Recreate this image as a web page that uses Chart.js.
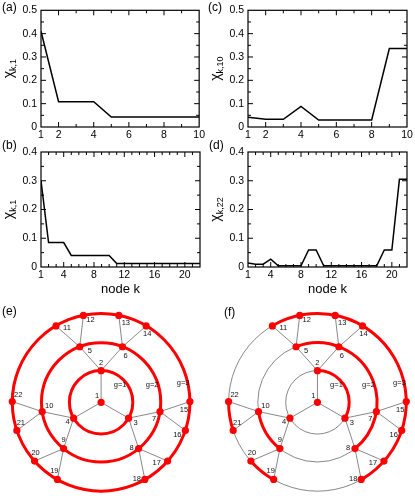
<!DOCTYPE html>
<html>
<head>
<meta charset="utf-8">
<script src="https://cdn.jsdelivr.net/npm/chart.js@4.4.1/dist/chart.umd.min.js"></script>
<style>
  html, body { margin: 0; padding: 0; background: #fff; }
  #wrap { position: relative; width: 415px; height: 496px; overflow: hidden; }
  canvas { position: absolute; }
</style>
</head>
<body>
<div id="wrap">
  <canvas id="pa" style="left:0;top:0" width="207" height="145"></canvas>
  <canvas id="pb" style="left:0;top:130px" width="207" height="170"></canvas>
  <canvas id="pc" style="left:207px;top:0" width="208" height="145"></canvas>
  <canvas id="pd" style="left:207px;top:130px" width="208" height="170"></canvas>
  <canvas id="pe" style="left:0;top:300px" width="207" height="196"></canvas>
  <canvas id="pf" style="left:207px;top:300px" width="208" height="196"></canvas>
</div>
<script>
// ---- data ----
const kSmall = [1, 2, 3, 4, 5, 6, 7, 8, 9, 10];
const kLarge = [1, 2, 3, 4, 5, 6, 7, 8, 9, 10, 11, 12, 13, 14, 15, 16, 17, 18, 19, 20, 21, 22];
const chiA = [0.41, 0.108, 0.108, 0.108, 0.043, 0.043, 0.043, 0.043, 0.043, 0.043];
const chiC = [0.042, 0.033, 0.033, 0.088, 0.030, 0.030, 0.030, 0.030, 0.336, 0.336];
const chiB = [0.30, 0.085, 0.085, 0.085, 0.040, 0.040, 0.040, 0.040, 0.040, 0.040,
              0.012, 0.012, 0.012, 0.012, 0.012, 0.012, 0.012, 0.012, 0.012, 0.012, 0.012, 0.012];
const chiD = [0.014, 0.010, 0.010, 0.027, 0.004, 0.004, 0.004, 0.004, 0.059, 0.059,
              0.004, 0.004, 0.004, 0.004, 0.004, 0.004, 0.004, 0.004, 0.059, 0.059, 0.305, 0.305];
const xTicksSmall = [1, 2, 4, 6, 8, 10];
const xTicksLarge = [1, 4, 8, 12, 16, 20];

// network: generation, parent and polar angle (degrees) of nodes 1..22
const nodeGen = [0, 1, 1, 1, 2, 2, 2, 2, 2, 2, 3, 3, 3, 3, 3, 3, 3, 3, 3, 3, 3, 3];
const nodeParent = [0, 1, 1, 1, 2, 2, 3, 3, 4, 4, 5, 5, 6, 6, 7, 7, 8, 8, 9, 9, 10, 10];
const nodeAngle = [0, 90, -30, 210, 111, 69, -9, -51, 231, 189,
                   120.5, 101.5, 78.5, 59.5, 0.5, -18.5, -41.5, -60.5, 240.5, 221.5, 198.5, 179.5];
const ringRadius = [0, 1, 1.88, 2.8];
const redRingsE = [1, 2, 3];
const redArcsF = [[2, 3], [5, 8], [9, 10], [11, 18], [19, 20], [21, 22]];

// label placement (px from node centre)
const labelShift = [[-4, -6], [0, -8], [7, 5], [-6, 4], [10, 4], [3, 9], [-6, 7], [-7, -1], [0, -9], [7, -6],
                    [11, 2], [7, 4], [7, 7], [1, 8], [-6, 8], [-8, 4], [-11, 2], [-8, -1], [-3, -9], [1, -8], [4, -8], [6, -7]];
const ringLabelShift = [[19, -17.5], [51, -17.5], [82, -19]];

const FONT = "'Liberation Sans', Arial, Helvetica, sans-serif";
const RED = '#ff0000';

// box, inward ticks, y label and panel letter
const framePlugin = {
  id: 'frame',
  afterDraw(chart, args, o) {
    const { ctx, chartArea: a, scales: { x, y } } = chart;
    ctx.save();
    ctx.strokeStyle = '#000';
    ctx.lineWidth = 1.2;
    ctx.strokeRect(a.left, a.top, a.right - a.left, a.bottom - a.top);
    ctx.lineWidth = 1;
    ctx.beginPath();
    for (let v = x.min + 1; v < x.max; v++) {
      const px = x.getPixelForValue(v);
      const len = v % o.xMajor === 0 ? 5 : 3;
      ctx.moveTo(px, a.bottom); ctx.lineTo(px, a.bottom - len);
      ctx.moveTo(px, a.top); ctx.lineTo(px, a.top + len);
    }
    const n = Math.round(y.max / 0.05);
    for (let i = 1; i < n; i++) {
      const py = y.getPixelForValue(i * 0.05);
      const len = i % 2 === 0 ? 5 : 3;
      ctx.moveTo(a.left, py); ctx.lineTo(a.left + len, py);
      ctx.moveTo(a.right, py); ctx.lineTo(a.right - len, py);
    }
    ctx.stroke();

    // y label: chi with subscript, rotated
    ctx.fillStyle = '#000';
    ctx.translate(a.left - 28.5, (a.top + a.bottom) / 2);
    ctx.rotate(-Math.PI / 2);
    ctx.textBaseline = 'alphabetic';
    ctx.font = '14px ' + FONT;
    const w1 = ctx.measureText('\u03c7').width;
    ctx.font = '9px ' + FONT;
    const w2 = ctx.measureText(o.sub).width;
    const x0 = -(w1 + w2) / 2;
    ctx.font = '14px ' + FONT;
    ctx.fillText('\u03c7', x0, 0);
    ctx.font = '9px ' + FONT;
    ctx.fillText(o.sub, x0 + w1, 3);
    ctx.setTransform(1, 0, 0, 1, 0, 0);

    ctx.font = '12px ' + FONT;
    ctx.textBaseline = 'middle';
    ctx.fillText(o.letter, o.lx, o.ly);
    ctx.restore();
  }
};

function lineChart(id, ks, vals, o) {
  const canvas = document.getElementById(id);
  return new Chart(canvas, {
    type: 'line',
    data: {
      datasets: [{
        data: ks.map((k, i) => ({ x: k, y: vals[i] })),
        borderColor: '#000',
        borderWidth: 1.5,
        pointRadius: 0,
        tension: 0,
        fill: false
      }]
    },
    options: {
      responsive: false,
      animation: false,
      layout: { padding: { top: o.top, right: canvas.width - 200 + (o.shift || 0), left: 0, bottom: 0 } },
      plugins: {
        legend: { display: false },
        tooltip: { enabled: false },
        frame: { xMajor: o.xMajor, sub: o.sub, letter: o.letter, lx: o.lx, ly: o.ly }
      },
      scales: {
        x: {
          type: 'linear',
          min: ks[0],
          max: ks[ks.length - 1],
          afterBuildTicks: s => { s.ticks = o.xTicks.map(v => ({ value: v })); },
          afterFit: s => { s.height = canvas.height - o.bottom; },
          grid: { display: false, drawTicks: false },
          border: { display: false },
          ticks: { autoSkip: false, maxRotation: 0, color: '#000', padding: 2, font: { family: FONT, size: 10.5 } },
          title: {
            display: !!o.title,
            text: 'node k',
            color: '#000',
            font: { family: FONT, size: 13 },
            padding: { top: 0, bottom: 3 }
          }
        },
        y: {
          min: 0,
          max: o.ymax,
          afterFit: s => { s.width = 41; },
          grid: { display: false, drawTicks: false },
          border: { display: false },
          ticks: {
            stepSize: 0.1,
            color: '#000',
            padding: 4,
            font: { family: FONT, size: 10.5 },
            callback: v => (Math.abs(v) < 1e-9 ? '0' : v.toFixed(1))
          }
        }
      }
    },
    plugins: [framePlugin]
  });
}

lineChart('pa', kSmall, chiA, { top: 10, bottom: 127, ymax: 0.5, xTicks: xTicksSmall, xMajor: 2, sub: 'k,1', letter: '(a)', lx: 2, ly: 8 });
lineChart('pb', kLarge, chiB, { top: 22, bottom: 137, ymax: 0.4, xTicks: xTicksLarge, xMajor: 4, sub: 'k,1', letter: '(b)', lx: 2, ly: 16, title: true });
lineChart('pc', kSmall, chiC, { top: 10, bottom: 127, ymax: 0.5, xTicks: xTicksSmall, xMajor: 2, sub: 'k,10', letter: '(c)', lx: 1, ly: 8 });
lineChart('pd', kLarge, chiD, { top: 22, bottom: 137, ymax: 0.4, xTicks: xTicksLarge, xMajor: 4, sub: 'k,22', letter: '(d)', lx: 2, ly: 16, title: true });

// ---- network panels ----
const netPlugin = {
  id: 'net',
  beforeDatasetsDraw(chart) {
    const { ctx, scales: { x, y } } = chart;
    const cx = x.getPixelForValue(0), cy = y.getPixelForValue(0);
    ctx.save();
    ctx.strokeStyle = '#555';
    ctx.lineWidth = 0.7;
    for (let g = 1; g < ringRadius.length; g++) {
      const r = x.getPixelForValue(ringRadius[g]) - cx;
      ctx.beginPath();
      ctx.arc(cx, cy, r, 0, Math.PI * 2);
      ctx.stroke();
    }
    ctx.restore();
  },
  beforeDatasetDraw(chart, args, o) {
    if (args.index !== 0) return;
    const { ctx, scales: { x, y } } = chart;
    const cx = x.getPixelForValue(0), cy = y.getPixelForValue(0);
    ctx.save();
    ctx.strokeStyle = RED;
    ctx.lineWidth = 3;
    o.rings.forEach(g => {
      const r = x.getPixelForValue(ringRadius[g]) - cx;
      ctx.beginPath();
      ctx.arc(cx, cy, r, 0, Math.PI * 2);
      ctx.stroke();
    });
    o.arcs.forEach(([a, b]) => {
      const r = x.getPixelForValue(ringRadius[nodeGen[a - 1]]) - cx;
      ctx.beginPath();
      ctx.arc(cx, cy, r, -nodeAngle[a - 1] * Math.PI / 180, -nodeAngle[b - 1] * Math.PI / 180, false);
      ctx.stroke();
    });
    ctx.restore();
  },
  afterDatasetsDraw(chart, args, o) {
    const { ctx, scales: { x, y } } = chart;
    const cx = x.getPixelForValue(0), cy = y.getPixelForValue(0);
    const pts = chart.data.datasets[0].data;
    ctx.save();
    ctx.fillStyle = '#111';
    ctx.font = '7.5px ' + FONT;
    ctx.textAlign = 'center';
    ctx.textBaseline = 'middle';
    pts.forEach((p, i) => {
      ctx.fillText(String(i + 1), x.getPixelForValue(p.x) + labelShift[i][0], y.getPixelForValue(p.y) + labelShift[i][1]);
    });
    ringLabelShift.forEach((s, i) => {
      ctx.fillText('g=' + (i + 1), cx + s[0], cy + s[1]);
    });
    ctx.fillStyle = '#000';
    ctx.font = '12px ' + FONT;
    ctx.textAlign = 'left';
    ctx.fillText(o.letter, o.lx, o.ly);
    ctx.restore();
  }
};

function netChart(id, cxPx, cyPx, rings, arcs, letter, lx, ly) {
  const canvas = document.getElementById(id);
  const unit = 33;
  const pos = nodeAngle.map((a, i) => ({
    x: ringRadius[nodeGen[i]] * Math.cos(a * Math.PI / 180),
    y: ringRadius[nodeGen[i]] * Math.sin(a * Math.PI / 180)
  }));
  const datasets = [{
    data: pos,
    showLine: false,
    pointRadius: 3.6,
    pointBackgroundColor: RED,
    pointBorderWidth: 0,
    clip: false
  }];
  nodeParent.forEach((p, i) => {
    if (!p) return;
    datasets.push({
      data: [pos[p - 1], pos[i]],
      showLine: true,
      pointRadius: 0,
      borderColor: '#555',
      borderWidth: 0.7,
      clip: false
    });
  });
  return new Chart(canvas, {
    type: 'scatter',
    data: { datasets },
    options: {
      responsive: false,
      animation: false,
      layout: { padding: 0 },
      plugins: {
        legend: { display: false },
        tooltip: { enabled: false },
        net: { rings, arcs, letter, lx, ly }
      },
      scales: {
        x: { display: false, min: -cxPx / unit, max: (canvas.width - cxPx) / unit },
        y: { display: false, min: -(canvas.height - cyPx) / unit, max: cyPx / unit }
      }
    },
    plugins: [netPlugin]
  });
}

netChart('pe', 101, 102.5, redRingsE, [], '(e)', 2, 12);
netChart('pf', 110.7, 102.5, [], redArcsF, '(f)', 17, 12.5);
</script>
</body>
</html>
